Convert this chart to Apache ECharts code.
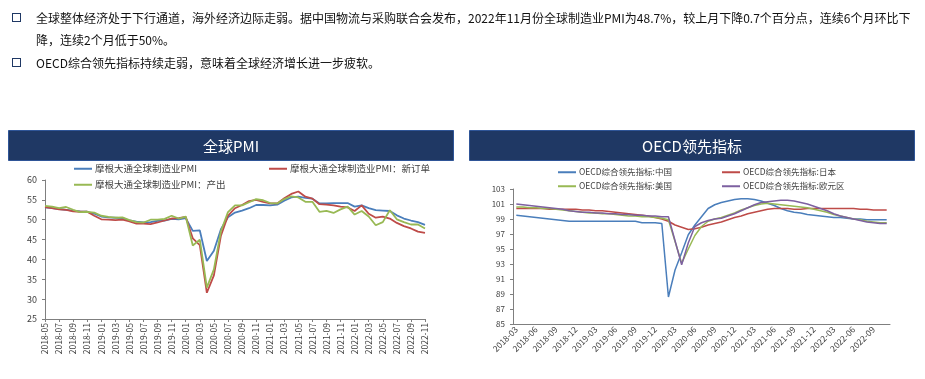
<!DOCTYPE html>
<html><head><meta charset="utf-8">
<script src="https://cdn.jsdelivr.net/npm/echarts@6/dist/echarts.min.js"></script>
<style>
html,body{margin:0;padding:0;background:#fff;}
#wrap{position:relative;width:925px;height:379px;overflow:hidden;}
#chart{position:absolute;left:0;top:0;width:925px;height:379px;}
.t{position:absolute;left:36px;white-space:nowrap;font-family:"Noto Sans CJK SC","Noto Sans",sans-serif;font-size:12px;line-height:18px;color:#111;}
.bul{position:absolute;left:12px;width:7px;height:7px;border:1.5px solid #1f3864;}
</style></head>
<body><div id="wrap">
<div id="chart"></div>
<div class="bul" style="top:13px"></div>
<div class="t" style="top:9px">全球整体经济处于下行通道，海外经济边际走弱。据中国物流与采购联合会发布，2022年11月份全球制造业PMI为48.7%，较上月下降0.7个百分点，连续6个月环比下</div>
<div class="t" style="top:31px">降，连续2个月低于50%。</div>
<div class="bul" style="top:58px"></div>
<div class="t" style="top:54px">OECD综合领先指标持续走弱，意味着全球经济增长进一步疲软。</div>
</div>
<script>
const pmiMonths = ["2018-05","2018-06","2018-07","2018-08","2018-09","2018-10","2018-11","2018-12",
"2019-01","2019-02","2019-03","2019-04","2019-05","2019-06","2019-07","2019-08","2019-09","2019-10","2019-11","2019-12",
"2020-01","2020-02","2020-03","2020-04","2020-05","2020-06","2020-07","2020-08","2020-09","2020-10","2020-11","2020-12",
"2021-01","2021-02","2021-03","2021-04","2021-05","2021-06","2021-07","2021-08","2021-09","2021-10","2021-11","2021-12",
"2022-01","2022-02","2022-03","2022-04","2022-05","2022-06","2022-07","2022-08","2022-09","2022-10","2022-11"];
const pmiTotal = [53.1,52.9,52.7,52.5,52.3,52.1,52.0,51.5,50.8,50.6,50.5,50.4,49.8,49.5,49.3,49.4,49.7,49.8,50.2,50.1,
50.4,47.2,47.3,39.6,42.2,47.6,50.6,51.8,52.3,52.9,53.7,53.7,53.6,53.8,54.8,55.6,55.8,55.5,55.3,54.1,
54.1,54.2,54.2,54.2,53.3,53.6,52.9,52.4,52.3,52.2,51.1,50.3,49.8,49.4,48.7];
const pmiNewOrders = [53.2,52.9,52.6,52.5,52.1,52.0,52.0,51.0,50.1,50.0,49.9,50.0,49.6,49.0,49.0,48.9,49.3,49.8,50.3,50.4,
50.7,45.3,43.6,31.6,36.0,46.0,51.0,52.9,53.7,54.7,55.0,54.5,54.1,54.1,55.4,56.5,57.1,55.8,55.3,53.9,
53.8,53.6,53.3,53.1,52.2,53.6,51.5,50.5,50.8,50.3,49.2,48.4,47.8,47.0,46.7];
const pmiOutput = [53.5,53.3,52.9,53.2,52.5,51.9,52.0,51.8,51.0,50.7,50.5,50.6,49.9,49.4,49.3,50.0,50.0,50.2,51.0,50.3,
50.8,43.5,45.0,32.9,37.5,47.1,51.9,53.6,53.6,54.4,55.2,54.9,54.2,54.1,55.2,55.9,55.6,54.5,54.5,52.0,
52.2,51.7,52.6,53.3,51.3,52.2,50.8,48.6,49.4,52.4,50.1,49.4,48.8,48.8,47.8];

const oecdMonths = ["2018-03","2018-04","2018-05","2018-06","2018-07","2018-08","2018-09","2018-10","2018-11","2018-12",
"2019-01","2019-02","2019-03","2019-04","2019-05","2019-06","2019-07","2019-08","2019-09","2019-10","2019-11","2019-12",
"2020-01","2020-02","2020-03","2020-04","2020-05","2020-06","2020-07","2020-08","2020-09","2020-10","2020-11","2020-12",
"2021-01","2021-02","2021-03","2021-04","2021-05","2021-06","2021-07","2021-08","2021-09","2021-10","2021-11","2021-12",
"2022-01","2022-02","2022-03","2022-04","2022-05","2022-06","2022-07","2022-08","2022-09","2022-10","2022-11"];
const oecdChina = [99.5,99.4,99.3,99.2,99.1,99.0,98.9,98.8,98.7,98.7,98.7,98.7,98.7,98.7,98.7,98.7,98.7,98.7,98.7,98.5,
98.5,98.5,98.4,88.6,92.2,94.5,96.9,98.2,99.3,100.4,100.9,101.2,101.4,101.6,101.7,101.7,101.6,101.4,101.1,100.8,
100.4,100.1,99.9,99.8,99.6,99.5,99.4,99.3,99.2,99.2,99.1,99.0,99.0,98.9,98.9,98.9,98.9];
const oecdJapan = [100.4,100.4,100.4,100.4,100.4,100.3,100.3,100.3,100.3,100.3,100.2,100.2,100.1,100.1,100.0,99.9,99.8,99.7,99.6,99.5,
99.4,99.2,99.0,98.7,98.2,97.9,97.6,97.7,97.9,98.2,98.4,98.6,98.9,99.2,99.4,99.7,99.9,100.1,100.3,100.4,
100.4,100.4,100.3,100.3,100.4,100.4,100.4,100.4,100.4,100.4,100.4,100.4,100.3,100.3,100.2,100.2,100.2];
const oecdUS = [100.6,100.6,100.5,100.5,100.4,100.4,100.3,100.2,100.1,100.0,99.9,99.8,99.8,99.7,99.7,99.6,99.5,99.4,99.4,99.3,
99.3,99.2,99.1,98.9,96.0,93.1,95.0,96.8,98.0,98.7,99.0,99.2,99.5,99.8,100.2,100.5,100.8,101.0,101.1,101.0,
100.9,100.8,100.7,100.6,100.5,100.3,100.1,99.9,99.6,99.4,99.2,99.0,98.9,98.7,98.6,98.5,98.5];
const oecdEuro = [101.0,100.9,100.8,100.7,100.6,100.5,100.4,100.3,100.1,100.0,99.9,99.9,99.8,99.8,99.7,99.7,99.6,99.6,99.5,99.5,
99.4,99.4,99.3,99.3,96.1,92.9,95.8,98.0,98.5,98.8,99.0,99.1,99.4,99.7,100.1,100.5,100.9,101.2,101.3,101.4,
101.5,101.5,101.4,101.2,101.0,100.7,100.4,100.1,99.7,99.4,99.2,99.0,98.8,98.6,98.5,98.4,98.4];

const pmiNames = ["摩根大通全球制造业PMI","摩根大通全球制造业PMI：新订单","摩根大通全球制造业PMI：产出"];
const oecdNames = ["OECD综合领先指标:中国","OECD综合领先指标:日本","OECD综合领先指标:美国","OECD综合领先指标:欧元区"];
const cBlue = "#4a7ebb", cRed = "#be4b48", cGreen = "#98b954", cPurple = "#7d60a0";
const FF = '"Noto Sans CJK SC","Noto Sans",sans-serif';
const axisCol = "#7f7f7f", labelCol = "#404040";

const chart = echarts.init(document.getElementById('chart'), null, {renderer:'canvas'});
function leg(name, left, top, fs){
  return {data:[name], left:left, top:top, icon:'rect', itemWidth:18, itemHeight:2, itemGap:0, padding:0,
    selectedMode:false, textStyle:{fontFamily:FF, fontSize:fs, color:'#404040', padding:[0,0,0,-2]}};
}
function line(name, data, color, xi, w){
  return {name:name, type:'line', data:data, xAxisIndex:xi, yAxisIndex:xi, symbol:'none', smooth:false,
    lineStyle:{color:color, width:w}, itemStyle:{color:color}, animation:false};
}
chart.setOption({
  animation:false,
  graphic:[
    {type:'rect', shape:{x:8.5,y:130.5,width:445,height:30}, style:{fill:'#1f3864', stroke:'#2f5597', lineWidth:1}},
    {type:'text', x:231, y:146, style:{text:'全球PMI', fill:'#fff', font:'15px '+FF, textAlign:'center', textVerticalAlign:'middle'}},
    {type:'rect', shape:{x:469.5,y:130.5,width:445,height:30}, style:{fill:'#1f3864', stroke:'#2f5597', lineWidth:1}},
    {type:'text', x:692, y:146, style:{text:'OECD领先指标', fill:'#fff', font:'15px '+FF, textAlign:'center', textVerticalAlign:'middle'}}
  ],
  legend:[
    leg(pmiNames[0], 74, 164, 9.5),
    leg(pmiNames[1], 269, 164, 9.5),
    leg(pmiNames[2], 74, 180, 9.5),
    leg(oecdNames[0], 558, 168, 8.5),
    leg(oecdNames[1], 722, 168, 8.5),
    leg(oecdNames[2], 558, 182, 8.5),
    leg(oecdNames[3], 722, 182, 8.5)
  ],
  grid:[
    {left:45, right:500, top:180, bottom:60, containLabel:false},
    {left:513, right:35, top:189, bottom:55, containLabel:false}
  ],
  xAxis:[
    {type:'category', gridIndex:0, data:pmiMonths, boundaryGap:false,
     axisLine:{lineStyle:{color:axisCol}}, axisTick:{interval:1, length:3, lineStyle:{color:axisCol}},
     axisLabel:{interval:1, rotate:90, fontSize:8.5, fontFamily:FF, color:labelCol, margin:4}},
    {type:'category', gridIndex:1, data:oecdMonths, boundaryGap:true,
     axisLine:{lineStyle:{color:axisCol}}, axisTick:{interval:2, length:3, lineStyle:{color:axisCol}},
     axisLabel:{interval:2, rotate:45, fontSize:8.5, fontFamily:FF, color:labelCol, margin:4}}
  ],
  yAxis:[
    {type:'value', gridIndex:0, min:25, max:60, interval:5, splitLine:{show:false},
     axisLine:{show:true, lineStyle:{color:axisCol}}, axisTick:{show:true, length:3, lineStyle:{color:axisCol}},
     axisLabel:{fontSize:9, fontFamily:FF, color:labelCol, margin:8}},
    {type:'value', gridIndex:1, min:85, max:103, interval:2, splitLine:{show:false},
     axisLine:{show:true, lineStyle:{color:axisCol}}, axisTick:{show:true, length:3, lineStyle:{color:axisCol}},
     axisLabel:{fontSize:8, fontFamily:FF, color:labelCol, margin:8}}
  ],
  series:[
    line(pmiNames[0], pmiTotal, cBlue, 0, 1.8),
    line(pmiNames[1], pmiNewOrders, cRed, 0, 1.8),
    line(pmiNames[2], pmiOutput, cGreen, 0, 1.8),
    line(oecdNames[0], oecdChina, cBlue, 1, 1.5),
    line(oecdNames[1], oecdJapan, cRed, 1, 1.5),
    line(oecdNames[2], oecdUS, cGreen, 1, 1.5),
    line(oecdNames[3], oecdEuro, cPurple, 1, 1.5)
  ]
});
</script>
</body></html>
